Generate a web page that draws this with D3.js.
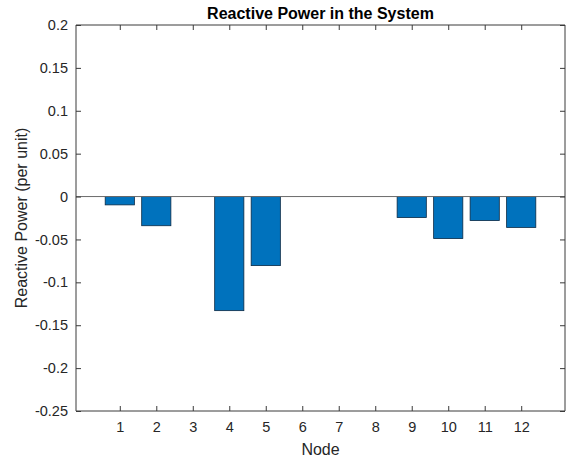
<!DOCTYPE html>
<html>
<head>
<meta charset="utf-8">
<script src="https://cdn.jsdelivr.net/npm/d3@7"></script>
<style>
  body { margin: 0; background: #fff; }
  svg { display: block; font-family: "Liberation Sans", Arial, Helvetica, sans-serif; }
</style>
</head>
<body>
<svg id="chart" width="569" height="462"></svg>
<script>
const nodes = [1, 2, 3, 4, 5, 6, 7, 8, 9, 10, 11, 12];
const reactivePower = [-0.0097, -0.034, 0, -0.133, -0.0805, 0, 0, 0, -0.0245, -0.049, -0.028, -0.036];
const yTicks = [0.2, 0.15, 0.1, 0.05, 0, -0.05, -0.1, -0.15, -0.2, -0.25];
const xDomain = [-0.2, 13.2];
const yDomain = [-0.25, 0.2];
const titleText = "Reactive Power in the System";
const xLabelText = "Node";
const yLabelText = "Reactive Power (per unit)";

const svg = d3.select("#chart");
const L = 76, R = 565, T = 25, B = 411;
const axisColor = "#3a3a3a";

const x = d3.scaleLinear().domain(xDomain).range([L, R]);
const y = d3.scaleLinear().domain(yDomain).range([B, T]);
const barW = 0.8;

// bars
svg.append("g").selectAll("rect")
  .data(nodes.map((n, i) => ({ n, v: reactivePower[i] })))
  .join("rect")
  .attr("x", d => x(d.n - barW / 2))
  .attr("width", d => x(d.n + barW / 2) - x(d.n - barW / 2))
  .attr("y", d => Math.min(y(d.v), y(0)))
  .attr("height", d => Math.abs(y(d.v) - y(0)))
  .attr("fill", "#0072BD")
  .attr("stroke", "#0b2a45")
  .attr("stroke-width", 0.8);

// baseline
svg.append("line")
  .attr("x1", L).attr("x2", R)
  .attr("y1", y(0)).attr("y2", y(0))
  .attr("stroke", "#6b6b6b").attr("stroke-width", 1);

// axes
const axBottom = d3.axisBottom(x).tickValues(nodes).tickSize(-5).tickPadding(11).tickFormat(d3.format("d"));
const axTop = d3.axisTop(x).tickValues(nodes).tickSize(-5).tickFormat("");
const axLeft = d3.axisLeft(y).tickValues(yTicks).tickSize(-5).tickPadding(8).tickFormat(d => d === 0 ? "0" : String(+d.toFixed(2)));
const axRight = d3.axisRight(y).tickValues(yTicks).tickSize(-5).tickFormat("");

function style(g) {
  g.select(".domain").attr("stroke", axisColor).attr("stroke-width", 1);
  g.selectAll(".tick line").attr("stroke", axisColor).attr("stroke-width", 1);
  g.selectAll(".tick text").attr("fill", "#262626").attr("font-size", 14.5);
}
svg.append("g").attr("transform", `translate(0,${B})`).call(axBottom).call(style)
  .call(g => g.select(".domain").attr("d", `M${L},0H${R}`));
svg.append("g").attr("transform", `translate(0,${T})`).call(axTop).call(style)
  .call(g => g.select(".domain").attr("d", `M${L},0H${R}`));
svg.append("g").attr("transform", `translate(${L},0)`).call(axLeft).call(style)
  .call(g => g.select(".domain").attr("d", `M0,${T}V${B}`));
svg.append("g").attr("transform", `translate(${R},0)`).call(axRight).call(style)
  .call(g => g.select(".domain").attr("d", `M0,${T}V${B}`));

// title
svg.append("text")
  .attr("x", (L + R) / 2).attr("y", 18.5)
  .attr("text-anchor", "middle")
  .attr("font-size", 16).attr("font-weight", "bold").attr("fill", "#000")
  .text(titleText);

// x label
svg.append("text")
  .attr("x", (L + R) / 2).attr("y", 455)
  .attr("text-anchor", "middle")
  .attr("font-size", 16).attr("fill", "#262626")
  .text(xLabelText);

// y label
svg.append("text")
  .attr("transform", `translate(27,${(T + B) / 2}) rotate(-90)`)
  .attr("text-anchor", "middle")
  .attr("font-size", 16).attr("fill", "#262626")
  .text(yLabelText);
</script>
</body>
</html>
